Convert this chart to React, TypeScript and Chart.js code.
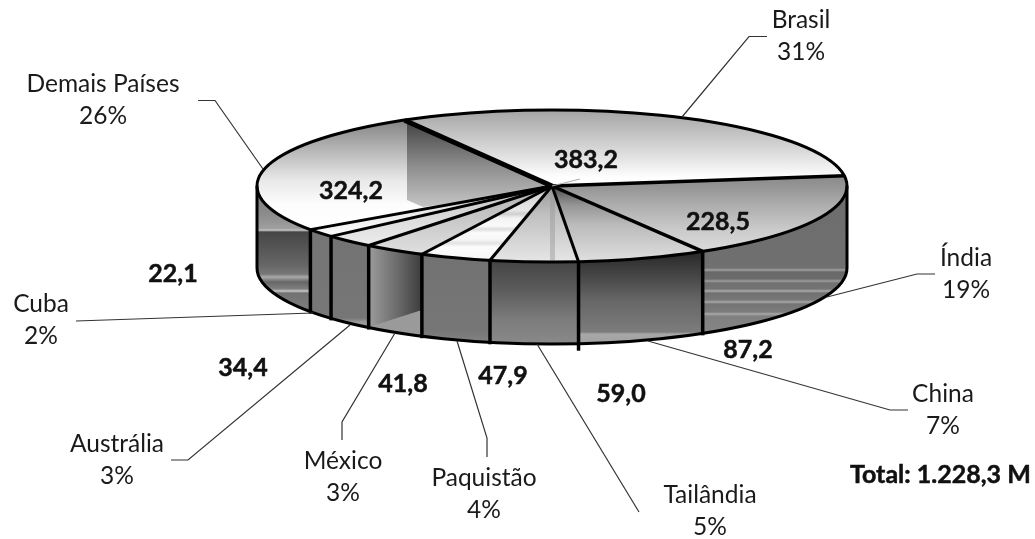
import React, { useEffect, useRef } from "react";
import { Chart, registerables } from "chart.js";

Chart.register(...registerables);

// Production by country, in millions of tonnes
const countries = ["Brasil", "Índia", "China", "Tailândia", "Paquistão", "México", "Austrália", "Cuba", "Demais Países"];
const production = [383.2, 228.5, 87.2, 59.0, 47.9, 41.8, 34.4, 22.1, 324.2];

// Pie placement on the canvas
const CX = 552;
const CY = 186;
const RADIUS = 295;
const SQUASH = 76 / 295;
const DEPTH = 82;

type Stop = [number, string];

// Top face shading: [screen y, grey]
const topShades: Stop[][] = [
  [[110, "#a4a4a4"], [130, "#bebebe"], [150, "#d8d8d8"], [178, "#ffffff"]],
  [[178, "#8c8c8c"], [187, "#959595"], [205, "#adadad"], [230, "#cbcbcb"], [262, "#e4e4e4"]],
  [[186, "#4c4c4c"], [205, "#959595"], [225, "#bbbbbb"], [262, "#e0e0e0"]],
  [[186, "#999999"], [215, "#c0c0c0"], [262, "#e6e6e6"]],
  [[186, "#c8c8c8"], [210, "#e8e8e8"], [214, "#cfcfcf"], [218, "#f2f2f2"], [226, "#fafafa"], [229, "#dddddd"], [233, "#fbfbfb"], [240, "#f6f6f6"], [243, "#e2e2e2"], [247, "#fcfcfc"], [262, "#f4f4f4"]],
  [[186, "#b0b0b0"], [225, "#cccccc"], [255, "#e0e0e0"]],
  [[186, "#bdbdbd"], [215, "#dadada"], [250, "#efefef"]],
  [[186, "#d0d0d0"], [215, "#eeeeee"], [235, "#fafafa"]],
  [[118, "#808080"], [150, "#b6b6b6"], [180, "#e8e8e8"], [205, "#fdfdfd"], [235, "#ffffff"]],
];

// Wall shading, index-aligned with the countries; the wall of the first slice is out of sight
const wallShades: Stop[][] = [
  [[190, "#666666"], [344, "#666666"]],
  [[180, "#6c6c6c"], [268, "#707070"], [270, "#a0a0a0"], [272, "#686868"], [279, "#6c6c6c"], [281, "#9c9c9c"], [283, "#707070"], [289, "#747474"], [291, "#aaaaaa"], [293, "#707070"], [300, "#787878"], [302, "#a8a8a8"], [304, "#747474"], [312, "#7c7c7c"], [314, "#aaaaaa"], [316, "#808080"], [340, "#888888"]],
  [[255, "#2c2c2c"], [275, "#454545"], [300, "#666666"], [332, "#7c7c7c"], [334, "#a8a8a8"], [345, "#a0a0a0"]],
  [[262, "#454545"], [290, "#5c5c5c"], [320, "#7c7c7c"], [345, "#8a8a8a"]],
  [[258, "#727272"], [330, "#767676"], [345, "#868686"]],
  [[250, "#8a8a8a"], [345, "#8a8a8a"]],
  [[240, "#737373"], [318, "#767676"], [322, "#9a9a9a"], [340, "#888888"]],
  [[230, "#757575"], [325, "#787878"]],
  [[186, "#777777"], [215, "#8c8c8c"], [229, "#a0a0a0"], [230, "#d0d0d0"], [232, "#464646"], [265, "#666666"], [274, "#777777"], [277, "#aaaaaa"], [282, "#666666"], [289, "#808080"], [291, "#c8c8c8"], [293, "#727272"], [325, "#888888"]],
];

// Width of the radial rule that opens each slice
const ruleWidths = [5, 3.5, 3.5, 3, 3, 3, 3, 3, 3];

// Leader rules from the pie to its captions
const leaderPaths: number[][][] = [
  [[682, 117], [749, 36.5], [767, 36.5]],
  [[827, 297], [917, 274], [935, 274]],
  [[648, 341], [890, 410], [908, 410]],
  [[537, 344], [639, 512]],
  [[457, 341], [487, 438], [487, 457]],
  [[395, 333], [342, 422], [342, 440]],
  [[350, 325], [188, 460], [171, 460]],
  [[313, 313], [76, 321]],
  [[263, 169], [215, 100.5], [198, 100.5]],
];

// Caption anchors: [centre x, baseline of the name line]
const captionAnchors = [
  [801, 28], [966, 266], [943, 402], [710, 503], [484, 486], [343, 469], [117, 452], [41, 312], [103, 92],
];

// Value anchors: [centre x, baseline]
const valueAnchors = [
  [586, 168], [718, 230], [748, 358], [621, 402], [503, 384], [403, 392], [243, 376], [173, 282], [351, 199],
];

const LINE_GAP = 32;
const CAPTION_FONT = '24.5px Lato, "Open Sans", sans-serif';
const VALUE_FONT = 'bold 25px Lato, "Open Sans", sans-serif';

const formatValue = (v: number) => v.toFixed(1).replace(".", ",");
const formatTotal = (v: number) => {
  const [whole, dec] = v.toFixed(1).split(".");
  return whole.replace(/\B(?=(\d{3})+$)/g, ".") + "," + dec;
};

function verticalGradient(ctx: CanvasRenderingContext2D, stops: Stop[], mapY: (y: number) => number) {
  const y0 = stops[0][0];
  const y1 = stops[stops.length - 1][0];
  const g = ctx.createLinearGradient(0, mapY(y0), 0, mapY(y1));
  stops.forEach(([y, c]) => g.addColorStop((y - y0) / (y1 - y0), c));
  return g;
}

// Bold text with a hairline outline for extra weight
function heavyText(ctx: CanvasRenderingContext2D, text: string, x: number, y: number) {
  ctx.fillText(text, x, y);
  ctx.strokeText(text, x, y);
}

// Turns the flat pie into a disc: walls beneath, flattened arcs, then rules and text on top
const discPlugin = {
  id: "disc",
  beforeDatasetsDraw(chart: any) {
    const ctx: CanvasRenderingContext2D = chart.ctx;
    const arcs = chart.getDatasetMeta(0).data;
    const ry = RADIUS * SQUASH;
    arcs.forEach((arc: any, i: number) => {
      const a0 = Math.max(arc.startAngle, 0);
      const a1 = Math.min(arc.endAngle, Math.PI);
      if (a1 <= a0) return;
      ctx.save();
      ctx.beginPath();
      ctx.ellipse(arc.x, arc.y, RADIUS, ry, 0, a0, a1);
      ctx.ellipse(arc.x, arc.y + DEPTH, RADIUS, ry, 0, a1, a0, true);
      ctx.closePath();
      if (countries[i] === "México") {
        const xa = arc.x + RADIUS * Math.cos(a1);
        const xb = arc.x + RADIUS * Math.cos(a0);
        const g = ctx.createLinearGradient(xa, 0, xb, 0);
        g.addColorStop(0, "#9c9c9c");
        g.addColorStop(0.55, "#6a6a6a");
        g.addColorStop(1, "#3c3c3c");
        ctx.fillStyle = g;
        ctx.fill();
        ctx.clip();
        ctx.fillStyle = "#9a9a9a";
        ctx.beginPath();
        ctx.moveTo(xa, 327);
        ctx.lineTo(xb, 310);
        ctx.lineTo(xb, 360);
        ctx.lineTo(xa, 360);
        ctx.closePath();
        ctx.fill();
      } else {
        ctx.fillStyle = verticalGradient(ctx, wallShades[i], (y) => y);
        ctx.fill();
      }
      ctx.restore();
    });
  },
  beforeDatasetDraw(chart: any) {
    const ctx = chart.ctx;
    ctx.save();
    ctx.translate(CX, CY);
    ctx.scale(1, SQUASH);
    ctx.translate(-CX, -CY);
  },
  afterDatasetDraw(chart: any) {
    chart.ctx.restore();
  },
  afterDatasetsDraw(chart: any) {
    const ctx: CanvasRenderingContext2D = chart.ctx;
    const arcs = chart.getDatasetMeta(0).data;
    const ry = RADIUS * SQUASH;
    const { x: cx, y: cy } = arcs[0];
    const px = (a: number) => cx + RADIUS * Math.cos(a);
    const py = (a: number) => cy + ry * Math.sin(a);

    // Shaded panels lying on the top face
    const demais = arcs[arcs.length - 1];
    ctx.save();
    ctx.beginPath();
    ctx.moveTo(cx, cy);
    ctx.ellipse(cx, cy, RADIUS, ry, 0, demais.startAngle, demais.endAngle);
    ctx.closePath();
    ctx.clip();
    const panel = ctx.createLinearGradient(0, 122, 0, 206);
    panel.addColorStop(0, "#444444");
    panel.addColorStop(0.5, "#8a8a8a");
    panel.addColorStop(1, "#c4c4c4");
    ctx.fillStyle = panel;
    ctx.beginPath();
    ctx.moveTo(407, 110);
    ctx.lineTo(cx, 110);
    ctx.lineTo(cx, 190);
    ctx.lineTo(423, 207);
    ctx.lineTo(407, 200);
    ctx.closePath();
    ctx.fill();
    ctx.restore();

    const tailandia = arcs[3];
    ctx.save();
    ctx.beginPath();
    ctx.moveTo(cx, cy);
    ctx.ellipse(cx, cy, RADIUS, ry, 0, tailandia.startAngle, tailandia.endAngle);
    ctx.closePath();
    ctx.clip();
    ctx.fillStyle = "rgba(150,150,150,0.45)";
    ctx.fillRect(cx - 2, cy, 5, 80);
    ctx.restore();

    ctx.lineCap = "butt";
    ctx.strokeStyle = "#000";

    // Wall separators
    arcs.forEach((arc: any) => {
      const a = arc.startAngle;
      if (a <= 0 || a >= Math.PI) return;
      const drop = Math.abs(a - Math.PI * 0.4722) < 0.02 ? 7 : 2;
      ctx.lineWidth = 3.5;
      ctx.beginPath();
      ctx.moveTo(px(a), py(a));
      ctx.lineTo(px(a), py(a) + DEPTH + drop);
      ctx.stroke();
    });

    // Wall outline
    ctx.lineWidth = 3;
    ctx.beginPath();
    ctx.moveTo(cx + RADIUS, cy);
    ctx.lineTo(cx + RADIUS, cy + DEPTH);
    ctx.ellipse(cx, cy + DEPTH, RADIUS, ry, 0, 0, Math.PI);
    ctx.lineTo(cx - RADIUS, cy);
    ctx.stroke();

    // Radial rules
    arcs.forEach((arc: any, i: number) => {
      ctx.lineWidth = ruleWidths[i];
      ctx.beginPath();
      ctx.moveTo(cx, cy);
      ctx.lineTo(px(arc.startAngle), py(arc.startAngle));
      ctx.stroke();
    });

    // Rim of the top face
    ctx.lineWidth = 3;
    ctx.beginPath();
    ctx.ellipse(cx, cy, RADIUS, ry, 0, 0, Math.PI * 2);
    ctx.stroke();

    // Leader rules
    ctx.strokeStyle = "#333";
    ctx.lineWidth = 1.2;
    leaderPaths.forEach((path) => {
      ctx.beginPath();
      path.forEach(([x, y], k) => (k ? ctx.lineTo(x, y) : ctx.moveTo(x, y)));
      ctx.stroke();
    });
    ctx.strokeStyle = "#aaa";
    ctx.lineWidth = 1;
    ctx.beginPath();
    ctx.moveTo(cx, cy);
    ctx.lineTo(cx + 28, cy - 7);
    ctx.stroke();

    // Captions
    const total = production.reduce((s, v) => s + v, 0);
    ctx.textAlign = "center";
    ctx.textBaseline = "alphabetic";
    ctx.fillStyle = "#1a1a1a";
    ctx.font = CAPTION_FONT;
    countries.forEach((name, i) => {
      const [x, y] = captionAnchors[i];
      ctx.fillText(name, x, y);
      ctx.fillText(`${Math.round((production[i] / total) * 100)}%`, x, y + LINE_GAP);
    });

    // Value labels and the total
    ctx.fillStyle = "#111";
    ctx.strokeStyle = "#111";
    ctx.lineWidth = 0.5;
    ctx.font = VALUE_FONT;
    production.forEach((v, i) => {
      const [x, y] = valueAnchors[i];
      heavyText(ctx, formatValue(v), x, y);
    });
    ctx.textAlign = "left";
    heavyText(ctx, `Total: ${formatTotal(total)} M`, 850, 483);
  },
};

export default function App() {
  const canvasRef = useRef<HTMLCanvasElement>(null);

  useEffect(() => {
    const canvas = canvasRef.current!;
    const ctx = canvas.getContext("2d")!;
    const faceFills = topShades.map((stops) =>
      verticalGradient(ctx, stops, (y) => CY + (y - CY) / SQUASH)
    );
    const chart = new Chart(canvas, {
      type: "pie",
      data: {
        labels: countries,
        datasets: [
          {
            data: production,
            backgroundColor: faceFills,
            borderWidth: 0,
            radius: RADIUS,
          } as any,
        ],
      },
      options: {
        responsive: false,
        animation: false,
        rotation: -30,
        layout: { padding: { left: 69, bottom: 167 } },
        events: [],
        plugins: { legend: { display: false }, tooltip: { enabled: false } },
      },
      plugins: [discPlugin],
    });
    return () => chart.destroy();
  }, []);

  return (
    <canvas
      ref={canvasRef}
      width={1035}
      height={539}
      style={{ position: "absolute", left: 0, top: 0, display: "block" }}
    />
  );
}
